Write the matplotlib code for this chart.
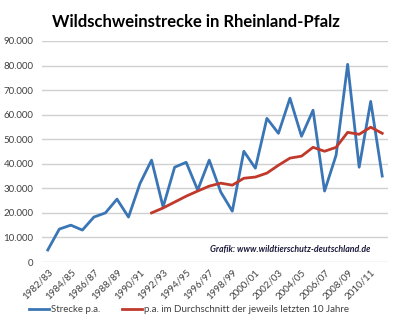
from matplotlib import pyplot as plt
import numpy as np

# Saison 1982/83 .. 2011/12
seasons = ["%d/%02d" % (y, (y + 1) % 100) for y in range(1982, 2012)]

strecke = [4900, 13400, 15000, 13000, 18300, 20000, 25600, 18300, 32000, 41500,
           22400, 38600, 40600, 29300, 41500, 28500, 20700, 45100, 38200, 58500,
           52400, 66700, 51200, 61800, 28900, 43500, 80500, 38600, 65400, 35000]

# 10-Jahres-Durchschnitt, erst ab 1991/92
durchschnitt = [None] * 9 + [20000, 22000, 24400, 26800, 28900, 30900, 32100, 31300,
                             34100, 34600, 36200, 39400, 42300, 43100, 46700, 45100,
                             46700, 52800, 52000, 54900, 52400]

plt.rcParams['font.family'] = ['Lato', 'DejaVu Sans']

fig = plt.figure(figsize=(4, 3.33), dpi=100)
ax = fig.add_axes([42 / 400, 1 - 262 / 333, 346 / 400, 221 / 333])

x = np.arange(len(seasons))
avg = np.array([np.nan if v is None else v for v in durchschnitt], dtype=float)

ax.plot(x, strecke, color="#3a75b5", linewidth=2, label="Strecke p.a.")
ax.plot(x, avg, color="#c0392b", linewidth=2,
        label="p.a. im Durchschnitt der jeweils letzten 10 Jahre")

ax.set_xlim(-0.5, len(seasons) - 0.5)
ax.set_ylim(0, 90000)
ax.set_yticks(np.arange(0, 90001, 10000))
ax.set_yticklabels(["0"] + ["%d.000" % (v // 1000) for v in range(10000, 90001, 10000)])
ax.grid(axis="y", color="#d0d0d0", linewidth=1)
ax.set_axisbelow(True)
for s in ax.spines.values():
    s.set_visible(False)

ax.set_xticks(x[::2])
ax.set_xticklabels(seasons[::2], rotation=45, ha="right", rotation_mode="anchor")
ax.tick_params(axis="both", length=0, labelsize=7, colors="#404040")
ax.tick_params(axis="x", pad=4)
ax.tick_params(axis="y", pad=6)

fig.text(0.49, 0.935, "Wildschweinstrecke in Rheinland-Pfalz", ha="center", va="center",
         fontsize=12, fontweight="bold")
ax.text(0.95, 0.055, "Grafik: www.wildtierschutz-deutschland.de", transform=ax.transAxes,
        ha="right", va="center", fontsize=6.3, fontstyle="italic", fontweight="bold",
        color="#1a1a3a")

fig.legend(loc="lower left", bbox_to_anchor=(0.05, 0.03), ncol=2, frameon=False,
           fontsize=7, handlelength=2.1, columnspacing=2.2, handletextpad=0.2,
           labelcolor="#404040")

plt.savefig("out.png")
